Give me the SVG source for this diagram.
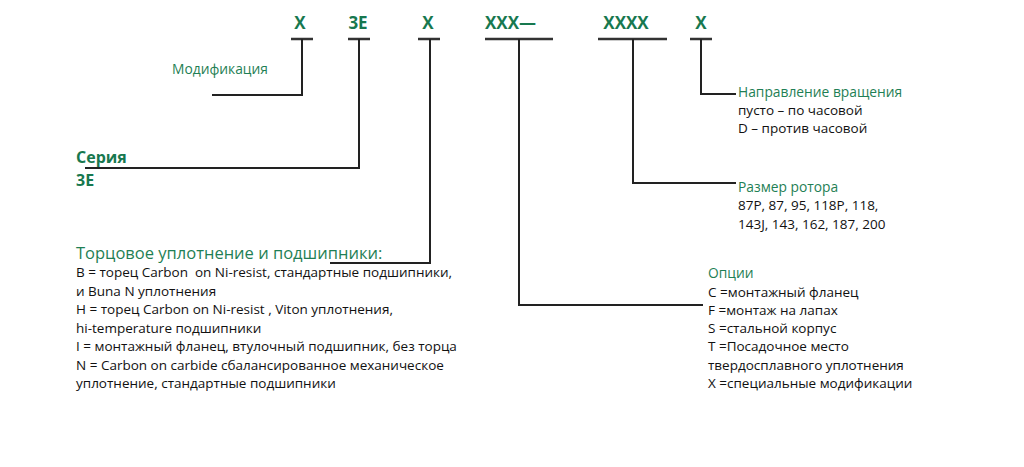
<svg xmlns="http://www.w3.org/2000/svg" width="1024" height="467" viewBox="0 0 1024 467">
<style>
.code{font-family:"Open Sans","Liberation Sans",sans-serif;font-weight:bold;font-size:17px;fill:#17784f}
.gt{font-family:"Open Sans","Liberation Sans",sans-serif;font-size:13.8px;fill:#1f7f55}
.gb{font-family:"Open Sans","Liberation Sans",sans-serif;font-size:16px;font-weight:bold;fill:#17784f}
.gl{font-family:"Open Sans","Liberation Sans",sans-serif;font-size:16.5px;fill:#1f7f55}
.bt{font-family:"Open Sans","Liberation Sans",sans-serif;font-size:13.5px;fill:#111}
.ln{fill:none;stroke:#222;stroke-width:2}
.ul{fill:none;stroke:#333;stroke-width:2.5}
</style>
<rect width="1024" height="467" fill="#fff"/>
<g id="codes">
<text class="code" x="300" y="29" text-anchor="middle">X</text>
<text class="code" x="358" y="29" text-anchor="middle">3E</text>
<text class="code" x="428" y="29" text-anchor="middle">X</text>
<text class="code" x="485" y="29">XXX—</text>
<text class="code" x="626" y="29" text-anchor="middle">XXXX</text>
<text class="code" x="701" y="29" text-anchor="middle">X</text>
</g>
<g id="connectors">
<path class="ul" d="M291 39H313M348 39H370M418 39H440M485 39H553M598 39H667M690 39H712"/>
<path class="ln" d="M302 39V95H212"/>
<path class="ln" d="M359 39V168H85"/>
<path class="ln" d="M430 39V263H330"/>
<path class="ln" d="M519 39V305H703"/>
<path class="ln" d="M633 39V183H736"/>
<path class="ln" d="M701 39V94H736"/>
</g>
<g id="mod">
<text class="gt" x="172" y="74">Модификация</text>
</g>
<g id="series">
<text class="gb" x="76" y="163">Серия</text>
<text class="gb" x="76" y="186">3E</text>
</g>
<g id="seal">
<text class="gl" x="76" y="259">Торцовое уплотнение и подшипники:</text>
<text class="bt" x="76" y="277" style="white-space:pre">B = торец Carbon  on Ni-resist, стандартные подшипники,</text>
<text class="bt" x="76" y="296">и Buna N уплотнения</text>
<text class="bt" x="76" y="314">H = торец Carbon on Ni-resist , Viton уплотнения,</text>
<text class="bt" x="76" y="333">hi-temperature подшипники</text>
<text class="bt" x="76" y="351">I = монтажный фланец, втулочный подшипник, без торца</text>
<text class="bt" x="76" y="370">N = Carbon on carbide сбалансированное механическое</text>
<text class="bt" x="76" y="388">уплотнение, стандартные подшипники</text>
</g>
<g id="rotation">
<text class="gt" x="738" y="97">Направление вращения</text>
<text class="bt" x="738" y="115">пусто – по часовой</text>
<text class="bt" x="738" y="133">D – против часовой</text>
</g>
<g id="rotor">
<text class="gt" x="738" y="192">Размер ротора</text>
<text class="bt" x="738" y="210">87P, 87, 95, 118P, 118,</text>
<text class="bt" x="738" y="229">143J, 143, 162, 187, 200</text>
</g>
<g id="options">
<text class="gt" x="708" y="278">Опции</text>
<text class="bt" x="708" y="297">C =монтажный фланец</text>
<text class="bt" x="708" y="315">F =монтаж на лапах</text>
<text class="bt" x="708" y="333">S =стальной корпус</text>
<text class="bt" x="708" y="351">T =Посадочное место</text>
<text class="bt" x="708" y="370">твердосплавного уплотнения</text>
<text class="bt" x="708" y="388">X =специальные модификации</text>
</g>
</svg>
